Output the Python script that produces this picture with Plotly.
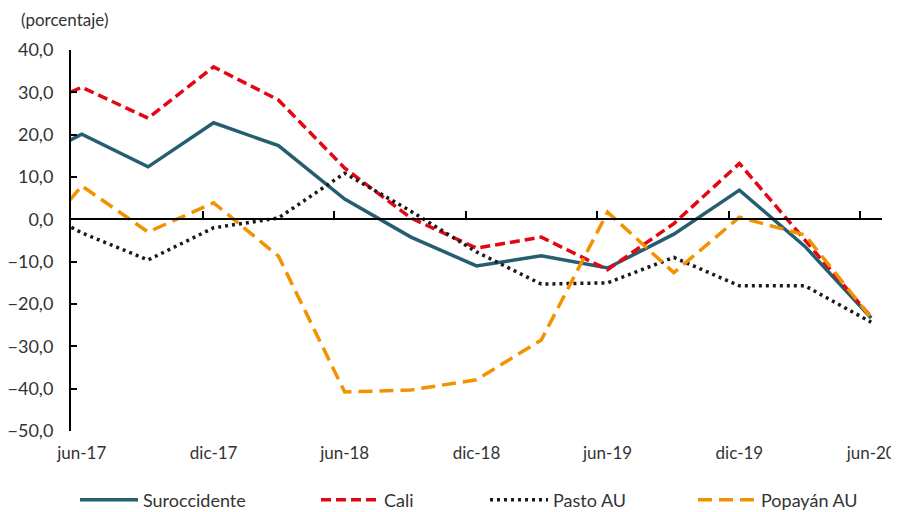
import pandas as pd
import plotly.graph_objects as go

# Quarterly periods (mar-17 lies left of the visible range and is clipped)
periodos = ["mar-17", "jun-17", "sep-17", "dic-17", "mar-18", "jun-18", "sep-18",
            "dic-18", "mar-19", "jun-19", "sep-19", "dic-19", "mar-20", "jun-20"]

suroccidente = [12.2, 20.1, 12.4, 22.8, 17.4, 4.8, -4.2, -11.0, -8.6, -11.5, -3.5, 6.9, -6.4, -23.3]
cali = [24.6, 31.2, 23.9, 36.0, 28.2, 12.1, 0.3, -6.8, -4.2, -11.9, -1.0, 13.2, -4.9, -23.1]
pasto = [5.0, -3.2, -9.6, -2.0, 0.3, 10.9, 1.9, -7.7, -15.3, -15.0, -9.0, -15.7, -15.7, -24.3]
popayan = [-10.6, 7.9, -3.0, 3.9, -8.7, -40.8, -40.3, -37.9, -28.5, 1.7, -12.6, 0.5, -3.7, -23.3]

etiquetas_x = ["jun-17", "dic-17", "jun-18", "dic-18", "jun-19", "dic-19", "jun-20"]
divisiones_x = ["dic-17", "jun-18", "dic-18", "jun-19", "dic-19", "jun-20"]

meses = {"ene": 1, "feb": 2, "mar": 3, "abr": 4, "may": 5, "jun": 6,
         "jul": 7, "ago": 8, "sep": 9, "oct": 10, "nov": 11, "dic": 12}


def mitad_mes(p):
    m, a = p.split("-")
    return pd.Timestamp(2000 + int(a), meses[m], 16)


def inicio_mes(p):
    m, a = p.split("-")
    return pd.Timestamp(2000 + int(a), meses[m], 1)


x = [mitad_mes(p) for p in periodos]
rango_x = [pd.Timestamp(2017, 6, 1), pd.Timestamp(2020, 7, 1)]

fig = go.Figure()
series = [
    ("Suroccidente", suroccidente, "#255E70", "solid", 3.5, "legend"),
    ("Cali", cali, "#E30613", "10px,5px", 3.5, "legend2"),
    ("Pasto AU", pasto, "#1A1A1A", "3px,4px", 3.5, "legend3"),
    ("Popayán AU", popayan, "#F39200", "14px,7px", 3.5, "legend4"),
]
for nombre, vals, color, dash, w, leg in series:
    fig.add_trace(go.Scatter(x=x, y=vals, name=nombre, mode="lines",
                             line=dict(color=color, dash=dash, width=w),
                             legend=leg))

# invisible trace to activate the zero-line axis
fig.add_trace(go.Scatter(x=rango_x, y=[None, None], xaxis="x2", showlegend=False,
                         hoverinfo="skip"))

font_fam = "Lato, 'Open Sans', sans-serif"
fs = 18
O = 8  # page body margin
W, H = 899 - O, 512 - O
L, T = 71 - O, 50 - O
R = W - (882 - O)
B = H - (431 - O)
pw = W - L - R
ph = H - T - B


def px_x(px):
    return (px - O - L) / pw


def px_y(py):
    return (H - B - (py - O)) / ph


leg_common = dict(orientation="h", xanchor="left", yanchor="middle",
                  font=dict(family=font_fam, size=fs, color="#333333"),
                  bgcolor="rgba(0,0,0,0)", itemwidth=58)

fig.update_layout(
    width=W, height=H,
    margin=dict(l=L, r=R, t=T, b=B, autoexpand=False),
    plot_bgcolor="white", paper_bgcolor="white",
    separators=",.",
    font=dict(family=font_fam, size=fs, color="#333333"),
    xaxis=dict(type="date", range=rango_x, showgrid=False, zeroline=False,
               showline=False, ticks="", automargin=False,
               tickvals=[mitad_mes(p) for p in etiquetas_x], ticktext=etiquetas_x,
               ticklabelstandoff=10,
               tickfont=dict(family=font_fam, size=17, color="#333333")),
    xaxis2=dict(type="date", range=rango_x, overlaying="x", anchor="free",
                position=50 / 90, side="bottom", showgrid=False, zeroline=False,
                showline=True, linecolor="black", linewidth=2,
                ticks="inside", ticklen=7, tickwidth=2, tickcolor="black",
                tickvals=[inicio_mes(p) for p in divisiones_x], showticklabels=False),
    yaxis=dict(range=[-50, 40], dtick=10, tick0=0, tickformat=".1f",
               showgrid=False, zeroline=False, showline=True, linecolor="black",
               linewidth=2, ticks="inside", ticklen=6, tickwidth=2, tickcolor="black",
               ticklabelstandoff=12, automargin=False,
               tickfont=dict(family=font_fam, size=fs, color="#333333")),
    legend=dict(x=px_x(143 - 68), y=px_y(500), **leg_common),
    legend2=dict(x=px_x(384 - 68), y=px_y(500), **leg_common),
    legend3=dict(x=px_x(553 - 68), y=px_y(500), **leg_common),
    legend4=dict(x=px_x(761 - 68), y=px_y(500), **leg_common),
    annotations=[dict(text="(porcentaje)", xref="paper", yref="paper",
                      x=px_x(19), y=px_y(19), xanchor="left", yanchor="middle",
                      showarrow=False,
                      font=dict(family=font_fam, size=fs - 1, color="#333333"))],
)

fig.write_html("out.html")
